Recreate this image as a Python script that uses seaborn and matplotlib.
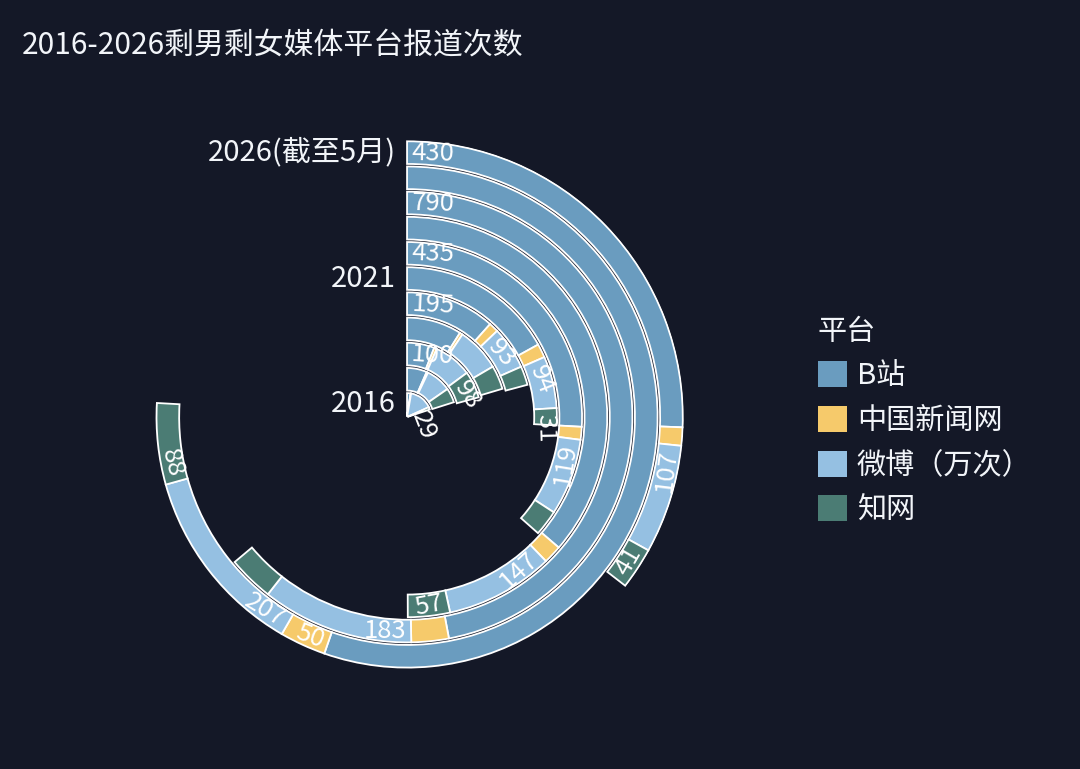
import numpy as np
import pandas as pd
import seaborn as sns
import matplotlib.pyplot as plt
from matplotlib.patches import Patch

# --- Data ---
years = ["2016", "2017", "2018", "2019", "2020", "2021",
         "2022", "2023", "2024", "2025", "2026(截至5月)"]
platforms = ["B站", "中国新闻网", "微博（万次）", "知网"]

bilibili = [40, 110, 100, 150, 195, 285, 435, 610, 790, 930, 430]
chinanews = [6, 8, 10, 8, 21, 25, 20, 25, 45, 50, 18]
weibo = [260, 140, 140, 120, 93, 94, 119, 147, 183, 207, 107]
cnki = [29, 80, 98, 65, 41, 31, 40, 57, 55, 88, 41]

# which value labels survive in the reference (the rest are hidden by overlap)
label_years = {
    "B站": ["2018", "2020", "2022", "2024", "2026(截至5月)"],
    "中国新闻网": ["2025"],
    "微博（万次）": ["2020", "2021", "2022", "2023", "2024", "2025", "2026(截至5月)"],
    "知网": ["2016", "2018", "2021", "2023", "2025", "2026(截至5月)"],
}
radial_ticks = ["2016", "2021", "2026(截至5月)"]

ANGLE_MAX = 1680  # value mapped to a full turn

# --- Style ---
BG = "#141827"
TEXT = "#f2f5f9"
palette = dict(zip(platforms, ["#6a9cbf", "#f6ca6b", "#95c0e2", "#4b7c74"]))

sns.set_theme(style="dark")
plt.rcParams["font.family"] = ["Noto Sans CJK SC", "DejaVu Sans"]


def main():
    df = pd.DataFrame({
        "year": years,
        "B站": bilibili,
        "中国新闻网": chinanews,
        "微博（万次）": weibo,
        "知网": cnki,
    })
    long_df = df.melt(id_vars="year", var_name="platform", value_name="count")
    long_df["ring"] = long_df["year"].map({y: i for i, y in enumerate(years)})
    long_df["platform"] = pd.Categorical(long_df["platform"], platforms, ordered=True)
    long_df = long_df.sort_values(["ring", "platform"])
    long_df["start"] = long_df.groupby("ring")["count"].cumsum() - long_df["count"]

    fig = plt.figure(figsize=(10.8, 7.69), dpi=100, facecolor=BG)
    ax = fig.add_axes([0.1204, 0.0975, 0.513, 0.7204], projection="polar")
    ax.set_facecolor("none")
    ax.set_theta_zero_location("N")
    ax.set_theta_direction(-1)

    scale = 2 * np.pi / ANGLE_MAX
    ring_px = 277 / len(years)

    for _, row in long_df.iterrows():
        ax.bar(
            row["start"] * scale,
            0.9,
            width=row["count"] * scale,
            bottom=row["ring"] + 0.05,
            align="edge",
            color=palette[row["platform"]],
            edgecolor="white",
            linewidth=1.3,
        )

        if row["year"] not in label_years[row["platform"]]:
            continue
        r_mid = row["ring"] + 0.5
        pad = min(5 / (r_mid * ring_px), 0.06)
        theta = row["start"] * scale + pad
        deg = np.degrees(theta) % 360
        if 90 < deg < 270:
            rot, ha = 180 - deg, "right"
        else:
            rot, ha = -deg, "left"
        ax.text(theta, r_mid, str(row["count"]), rotation=rot, ha=ha, va="center",
                rotation_mode="anchor", color="white", fontsize=18.5)

    # radial category labels on the left of the 0 line
    for name in radial_ticks:
        ax.annotate(name, xy=(0, years.index(name) + 0.5), xytext=(-8, 0),
                    textcoords="offset points", ha="right", va="center",
                    color=TEXT, fontsize=21)

    ax.set_ylim(0, len(years))
    ax.set_xticks([])
    ax.set_yticks([])
    ax.grid(False)
    ax.spines["polar"].set_visible(False)

    fig.text(0.02, 0.941, "2016-2026剩男剩女媒体平台报道次数", color=TEXT,
             fontsize=21.5, ha="left", va="center")

    handles = [Patch(facecolor=palette[p], edgecolor="none", label=p) for p in platforms]
    leg = fig.legend(handles=handles, title="平台", loc="upper left",
                     bbox_to_anchor=(0.7435, 0.607), frameon=False, fontsize=21,
                     title_fontsize=21, handlelength=1.0, handleheight=1.0,
                     handletextpad=0.35, labelspacing=0.5, borderpad=0,
                     alignment="left")
    for t in leg.get_texts():
        t.set_color(TEXT)
    leg.get_title().set_color(TEXT)

    fig.savefig("out.png", dpi=100, facecolor=BG)


if __name__ == "__main__":
    main()
